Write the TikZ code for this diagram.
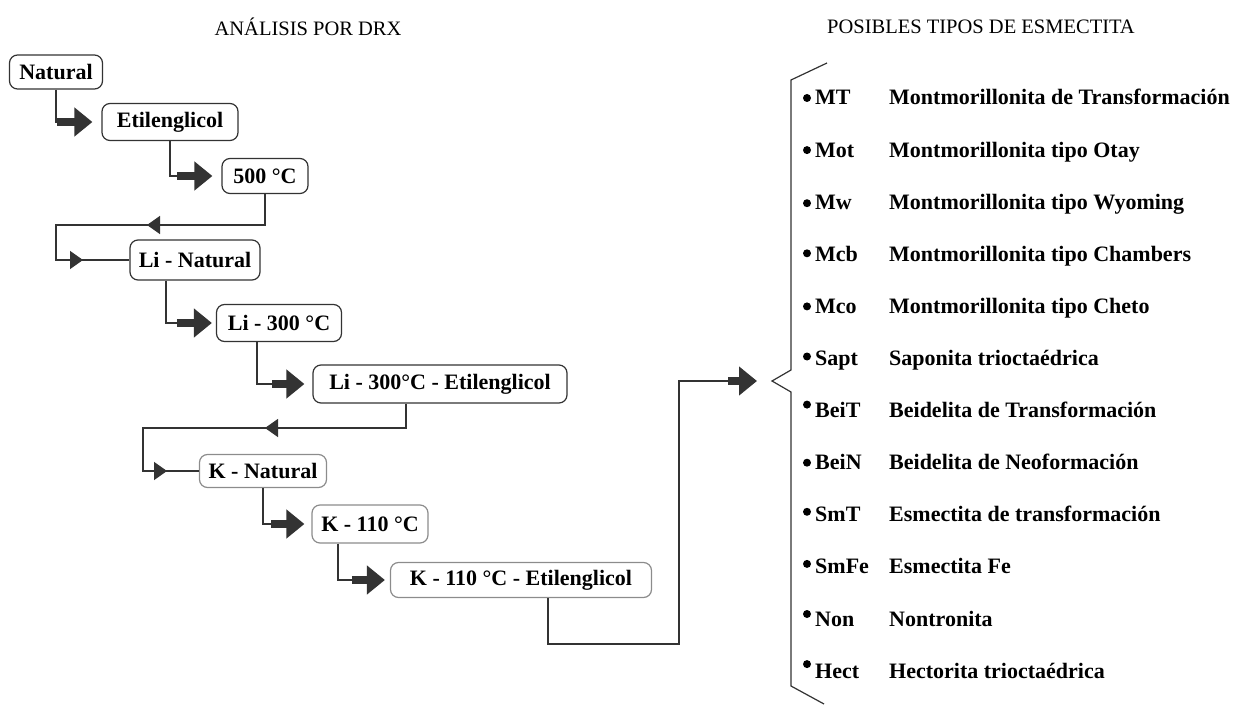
\documentclass[tikz,border=0pt]{standalone}
\usepackage{fontspec}
\setmainfont{Liberation Serif}
\usetikzlibrary{arrows.meta,positioning,calc}
\definecolor{lin}{HTML}{333333}
\definecolor{kgray}{HTML}{8C8C8C}
\begin{document}
\begin{tikzpicture}[x=1pt,y=-1pt,
  box/.style={draw=lin,line width=1.2pt,rounded corners=8pt,inner sep=0pt,font=\fontsize{22}{26}\selectfont\bfseries},
  kbox/.style={box,draw=kgray},
  link/.style={draw=lin,line width=1.5pt},
  fat/.style={draw=lin,line width=8pt,-{Triangle[length=18pt,width=28pt]}},
  tip/.style={draw=lin,line width=1.5pt,-{Triangle[length=13pt,width=18pt]}},
  item/.style={anchor=base west,inner sep=0pt,font=\fontsize{22}{26}\selectfont\bfseries},
  title/.style={font=\fontsize{20.5}{24}\selectfont}]
\useasboundingbox (0,0) rectangle (1256,706);
\node[title] (tdrx) at (308,27) {ANÁLISIS POR DRX};
\node[title] (tesm) at (981,27) {POSIBLES TIPOS DE ESMECTITA};
\node[box,minimum width=93pt,minimum height=34pt] (nat) at (56,72) {Natural};
\node[box,minimum width=136pt,minimum height=37pt] (etil) at (170,122) {Etilenglicol};
\node[box,minimum width=86pt,minimum height=35pt] (five) at (265,176) {500 °C};
\node[box,minimum width=130pt,minimum height=40pt] (linat) at (195,260) {Li - Natural};
\node[box,minimum width=125pt,minimum height=37pt] (li300) at (279,323) {Li - 300 °C};
\node[box,minimum width=254pt,minimum height=38pt] (lietil) at (440,384) {Li - 300°C - Etilenglicol};
\node[kbox,minimum width=127pt,minimum height=33pt] (knat) at (263,471) {K - Natural};
\node[kbox,minimum width=116pt,minimum height=38pt] (k110) at (370,524) {K - 110 °C};
\node[kbox,minimum width=261pt,minimum height=35pt] (ketil) at (521,580) {K - 110 °C - Etilenglicol};
\coordinate (lp1) at (56,225);
\coordinate (lp2) at (143,428);
\coordinate (rt) at (679,644);
\coordinate (brk) at (772,381);
% pasos
\draw[link] (nat.south) |- ([xshift=-44pt]etil.west);
\draw[fat] ([xshift=-44pt]etil.west) -- ([xshift=-9pt]etil.west);
\draw[link] (etil.south) |- ([xshift=-44pt]five.west);
\draw[fat] ([xshift=-44pt]five.west) -- ([xshift=-9pt]five.west);
\draw[link] (five.south) |- (lp1) |- (linat.west);
\draw[tip] (165,225) -- (147,225);
\draw[tip] (66,260) -- (83,260);
\draw[link] ([xshift=-29pt]linat.south) |- ([xshift=-39pt]li300.west);
\draw[fat] ([xshift=-39pt]li300.west) -- ([xshift=-4pt]li300.west);
\draw[link] ([xshift=-22pt]li300.south) |- ([xshift=-40pt]lietil.west);
\draw[fat] ([xshift=-40pt]lietil.west) -- ([xshift=-8pt]lietil.west);
\draw[link] ([xshift=-34pt]lietil.south) |- (lp2) |- (knat.west);
\draw[tip] (283,428) -- (265,428);
\draw[tip] (153,471) -- (167,471);
\draw[link] (knat.south) |- ([xshift=-40pt]k110.west);
\draw[fat] ([xshift=-40pt]k110.west) -- ([xshift=-7pt]k110.west);
\draw[link] ([xshift=-32pt]k110.south) |- ([xshift=-38pt]ketil.west);
\draw[fat] ([xshift=-38pt]ketil.west) -- ([xshift=-5pt]ketil.west);
\draw[link] ([xshift=27pt]ketil.south) |- (rt) |- ([xshift=-44pt]brk);
\draw[fat] ([xshift=-44pt]brk) -- ([xshift=-15pt]brk);
% llave
\draw[draw=lin,line width=1.2pt] (827,63) -- (791,80) -- (791,370) -- (brk) -- (791,392) -- (791,686) -- (824,704);
\foreach \ab/\desc/\dy [count=\i from 0] in {MT/Montmorillonita de Transformación/0,Mot/Montmorillonita tipo Otay/0,Mw/Montmorillonita tipo Wyoming/1,Mcb/Montmorillonita tipo Chambers/-1,Mco/Montmorillonita tipo Cheto/0,Sapt/Saponita trioctaédrica/-2,BeiT/Beidelita de Transformación/-6,BeiN/Beidelita de Neoformación/0,SmT/Esmectita de transformación/-3,SmFe/Esmectita Fe/-3,Non/Nontronita/-5,Hect/Hectorita trioctaédrica/-7}{
  \fill[black] (807,98+52.1*\i+\dy) circle (4pt);
  \node[item] (ab\i) at (815,105+52.1*\i) {\ab};
  \node[item] (ds\i) at (889,105+52.1*\i) {\desc};
}
\end{tikzpicture}
\end{document}
